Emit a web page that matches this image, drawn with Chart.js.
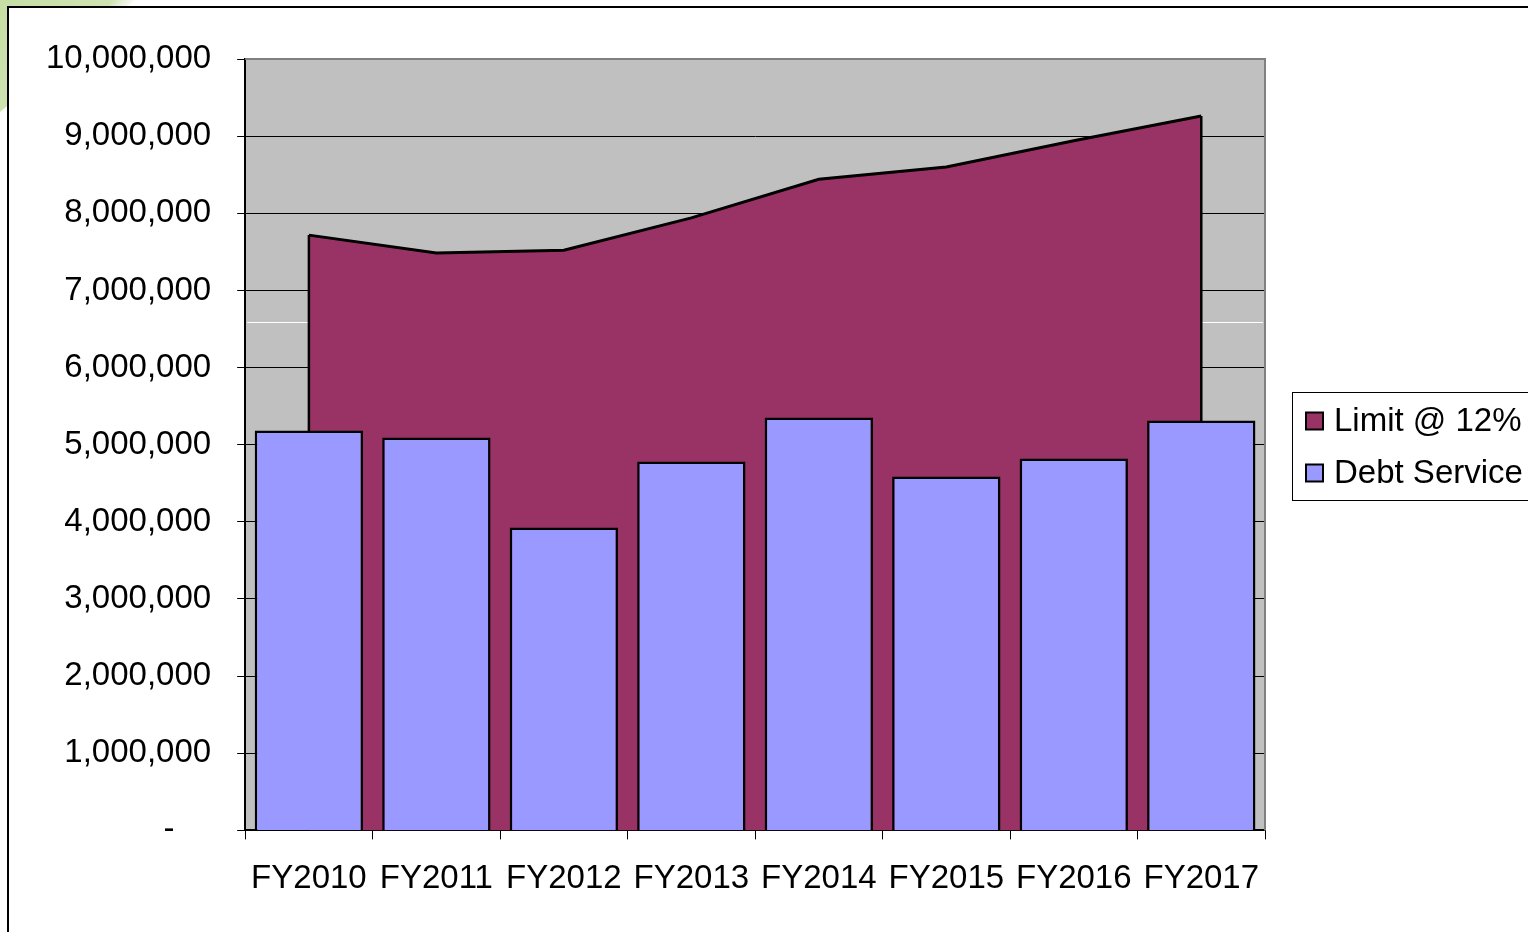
<!DOCTYPE html>
<html>
<head>
<meta charset="utf-8">
<title>Debt Service vs Limit</title>
<script src="https://cdn.jsdelivr.net/npm/chart.js@4.4.1/dist/chart.umd.min.js"></script>
<style>
  html, body { margin: 0; padding: 0; background: #ffffff; overflow: hidden; }
  #wrap { width: 1528px; height: 932px; position: relative; }
</style>
</head>
<body>
<div id="wrap"><canvas id="chart" width="1528" height="932"></canvas></div>
<script>
// Fiscal years on the category axis
const years = ['FY2010', 'FY2011', 'FY2012', 'FY2013', 'FY2014', 'FY2015', 'FY2016', 'FY2017'];

// Borrowing limit (12%) and annual debt service, in dollars
const limitAt12 = [7717000, 7484000, 7520000, 7940000, 8440000, 8600000, 8940000, 9260000];
const debtService = [5185000, 5094000, 3927000, 4783000, 5354000, 4588000, 4822000, 5315000];

// Value axis ticks
const yMin = 0;
const yMax = 10000000;
const yStep = 1000000;

// Level of the thin white rule across the plot background
const whiteRuleValue = 6590000;

const FONT = '"Liberation Sans", Arial, Helvetica, sans-serif';
const FONT_SIZE = 33;
const LIMIT_COLOR = '#993366';
const DEBT_COLOR = '#9999ff';

// Page frame, corner tint, plot background and plot border
const framePlugin = {
  id: 'frame',
  beforeDraw(chart) {
    const { ctx, width, height, chartArea } = chart;
    ctx.save();
    ctx.fillStyle = '#ffffff';
    ctx.fillRect(0, 0, width, height);
    // soft green tint in the top-left corner
    const g = ctx.createLinearGradient(0, 0, 80, 70);
    g.addColorStop(0, '#c6dea4');
    g.addColorStop(0.8, '#cfe3b2');
    g.addColorStop(1, 'rgba(225,238,208,0)');
    ctx.fillStyle = g;
    ctx.beginPath();
    ctx.moveTo(0, 0);
    ctx.lineTo(135, 0);
    ctx.lineTo(0, 112);
    ctx.closePath();
    ctx.fill();
    // white sheet with black frame
    ctx.fillStyle = '#ffffff';
    ctx.fillRect(8, 7, width, height);
    ctx.strokeStyle = '#000000';
    ctx.lineWidth = 2;
    ctx.strokeRect(8, 7, width + 50, height + 50);
    // grey plot background
    ctx.fillStyle = '#c0c0c0';
    ctx.fillRect(chartArea.left, chartArea.top, chartArea.right - chartArea.left, chartArea.bottom - chartArea.top);
    ctx.restore();
  },
  beforeDatasetsDraw(chart) {
    const { ctx, chartArea, scales } = chart;
    const y = Math.round(scales.y.getPixelForValue(whiteRuleValue)) + 0.5;
    ctx.save();
    ctx.strokeStyle = '#ffffff';
    ctx.lineWidth = 1;
    ctx.beginPath();
    ctx.moveTo(chartArea.left + 2, y);
    ctx.lineTo(chartArea.right - 2, y);
    ctx.stroke();
    ctx.restore();
  },
  afterDraw(chart) {
    const { ctx, chartArea } = chart;
    ctx.save();
    ctx.strokeStyle = '#808080';
    ctx.lineWidth = 2;
    ctx.beginPath();
    ctx.moveTo(chartArea.left, chartArea.top);
    ctx.lineTo(chartArea.right, chartArea.top);
    ctx.lineTo(chartArea.right, chartArea.bottom);
    ctx.stroke();
    ctx.restore();
  }
};

// Vertical end edges of the filled limit area
const areaEdgesPlugin = {
  id: 'areaEdges',
  afterDatasetDraw(chart, args) {
    const ds = chart.data.datasets[args.index];
    if (ds.type !== 'line') return;
    const pts = args.meta.data;
    const base = chart.scales.y.getPixelForValue(0);
    const { ctx } = chart;
    ctx.save();
    ctx.strokeStyle = '#000000';
    ctx.lineWidth = 2.5;
    ctx.beginPath();
    ctx.moveTo(pts[0].x, pts[0].y);
    ctx.lineTo(pts[0].x, base);
    ctx.moveTo(pts[pts.length - 1].x, pts[pts.length - 1].y);
    ctx.lineTo(pts[pts.length - 1].x, base);
    ctx.stroke();
    ctx.restore();
  }
};

// Boxed legend at the right of the plot
const boxLegendPlugin = {
  id: 'boxLegend',
  afterDraw(chart) {
    const { ctx, chartArea } = chart;
    const left = chartArea.right + 27;
    const top = 392;
    const rowH = 52;
    const items = [chart.data.datasets[1], chart.data.datasets[0]];
    ctx.save();
    ctx.fillStyle = '#ffffff';
    ctx.fillRect(left, top, 400, rowH * items.length + 4);
    ctx.strokeStyle = '#000000';
    ctx.lineWidth = 1;
    ctx.strokeRect(left + 0.5, top + 0.5, 400, rowH * items.length + 4);
    ctx.font = FONT_SIZE + 'px ' + FONT;
    ctx.textBaseline = 'middle';
    items.forEach((ds, i) => {
      const cy = top + 29 + i * rowH;
      ctx.fillStyle = ds.backgroundColor;
      ctx.fillRect(left + 14, cy - 8.5, 17, 17);
      ctx.lineWidth = 2;
      ctx.strokeStyle = '#000000';
      ctx.strokeRect(left + 14, cy - 8.5, 17, 17);
      ctx.fillStyle = '#000000';
      ctx.fillText(ds.label, left + 42, cy + 1);
    });
    ctx.restore();
  }
};

new Chart(document.getElementById('chart'), {
  data: {
    labels: years,
    datasets: [
      {
        type: 'bar',
        label: 'Debt Service',
        data: debtService,
        backgroundColor: DEBT_COLOR,
        borderColor: '#000000',
        borderWidth: 2.5,
        borderSkipped: 'bottom',
        categoryPercentage: 1.0,
        barPercentage: 0.85,
        order: 0
      },
      {
        type: 'line',
        label: 'Limit @ 12%',
        data: limitAt12,
        backgroundColor: LIMIT_COLOR,
        borderColor: '#000000',
        borderWidth: 3,
        fill: 'origin',
        tension: 0,
        pointRadius: 0,
        pointHoverRadius: 0,
        order: 1
      }
    ]
  },
  options: {
    responsive: false,
    animation: false,
    events: [],
    layout: { padding: { left: 20, right: 263, top: 59, bottom: 13 } },
    plugins: {
      legend: { display: false },
      tooltip: { enabled: false },
      title: { display: false }
    },
    scales: {
      x: {
        type: 'category',
        offset: true,
        grid: {
          offset: true,
          drawOnChartArea: false,
          drawTicks: true,
          tickLength: 9,
          color: '#000000',
          lineWidth: 1
        },
        border: { display: true, color: '#000000', width: 2 },
        ticks: {
          color: '#000000',
          font: { family: FONT, size: FONT_SIZE },
          padding: 20,
          maxRotation: 0,
          autoSkip: false
        }
      },
      y: {
        min: yMin,
        max: yMax,
        grid: {
          drawOnChartArea: true,
          drawTicks: true,
          tickLength: 8,
          color: '#000000',
          lineWidth: 1
        },
        border: { display: true, color: '#000000', width: 2 },
        ticks: {
          stepSize: yStep,
          color: '#000000',
          font: { family: FONT, size: FONT_SIZE },
          padding: 26,
          callback: (v) => v === 0 ? '-    ' : v.toLocaleString('en-US')
        }
      }
    }
  },
  plugins: [framePlugin, areaEdgesPlugin, boxLegendPlugin]
});
</script>
</body>
</html>
